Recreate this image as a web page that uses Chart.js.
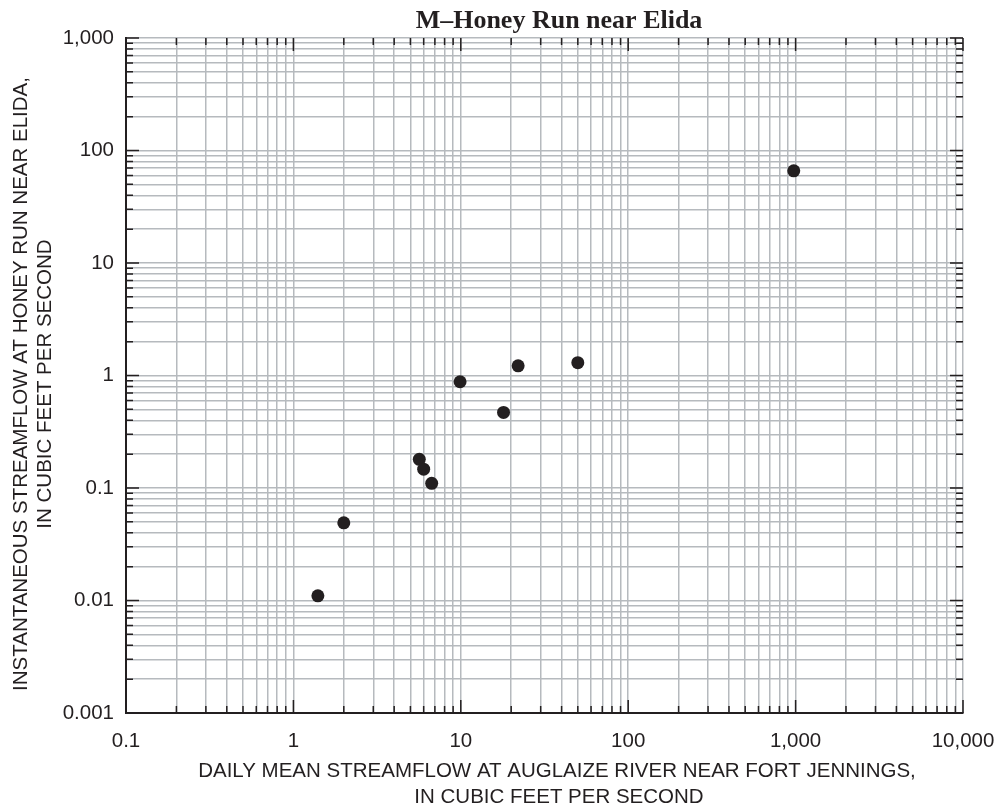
<!DOCTYPE html>
<html>
<head>
<meta charset="utf-8">
<script src="https://cdn.jsdelivr.net/npm/chart.js@4"></script>
<style>
    html, body { margin: 0; padding: 0; background: #ffffff; }
    #wrap { width: 999px; height: 810px; }
</style>
</head>
<body>
<div id="wrap"><canvas id="scatterChart" width="999" height="810"></canvas></div>
<script>
// Data (x = Auglaize River, y = Honey Run), cfs
const flowAuglaize = [1.4, 2.0, 5.65, 6.0, 6.7, 9.9, 18, 22, 50, 975];
const flowHoneyRun = [0.011, 0.049, 0.18, 0.147, 0.11, 0.88, 0.47, 1.22, 1.3, 66];

// Axis decades and their labels
const xMajorTicks = [0.1, 1, 10, 100, 1000, 10000];
const xTickLabels = ['0.1', '1', '10', '100', '1,000', '10,000'];
const yMajorTicks = [0.001, 0.01, 0.1, 1, 10, 100, 1000];
const yTickLabels = ['0.001', '0.01', '0.1', '1', '10', '100', '1,000'];
const minorSteps = [2, 3, 4, 5, 6, 7, 8, 9];

const chartTitle = 'M\u2013Honey Run near Elida';
const xTitleLines = ['DAILY MEAN STREAMFLOW AT AUGLAIZE RIVER NEAR FORT JENNINGS,', 'IN CUBIC FEET PER SECOND'];
const yTitleLines = ['INSTANTANEOUS STREAMFLOW AT HONEY RUN NEAR ELIDA,', 'IN CUBIC FEET PER SECOND'];

const LABEL_FONT = "'Liberation Sans', Arial, sans-serif";
const LABEL_SIZE = 20.5;
const TEXT_COLOR = '#231f20';

// Build the log ticks: each decade plus its 2..9 minors
function buildLogTicks(majors) {
    const ticks = [];
    majors.forEach((m, i) => {
        ticks.push({ value: m, major: true });
        if (i < majors.length - 1) {
            minorSteps.forEach(s => ticks.push({ value: +(m * s).toPrecision(6), major: false }));
        }
    });
    return ticks;
}

function labelFor(value, majors, labels) {
    for (let i = 0; i < majors.length; i++) {
        if (Math.abs(value - majors[i]) / majors[i] < 1e-6) return labels[i];
    }
    return '';
}

// Inward tick marks on all four sides
const innerTicksPlugin = {
    id: 'innerTicks',
    afterDatasetsDraw(chart) {
        const ctx = chart.ctx;
        const area = chart.chartArea;
        const xs = chart.scales.x;
        const ys = chart.scales.y;
        ctx.save();
        ctx.strokeStyle = TEXT_COLOR;
        ctx.lineWidth = 1.5;
        ctx.beginPath();
        xs.ticks.forEach(t => {
            const px = xs.getPixelForValue(t.value);
            const len = t.major ? 13 : 7;
            ctx.moveTo(px, area.top);
            ctx.lineTo(px, area.top + len);
            ctx.moveTo(px, area.bottom);
            ctx.lineTo(px, area.bottom - len);
        });
        ys.ticks.forEach(t => {
            const py = ys.getPixelForValue(t.value);
            const len = t.major ? 13 : 7;
            ctx.moveTo(area.left, py);
            ctx.lineTo(area.left + len, py);
            ctx.moveTo(area.right, py);
            ctx.lineTo(area.right - len, py);
        });
        ctx.stroke();
        ctx.restore();
    }
};

// Chart title and axis titles
const titlesPlugin = {
    id: 'titles',
    afterDraw(chart) {
        const ctx = chart.ctx;
        ctx.save();
        ctx.fillStyle = TEXT_COLOR;
        ctx.textAlign = 'center';
        ctx.textBaseline = 'alphabetic';

        ctx.font = "bold 26px 'Liberation Serif', 'Times New Roman', serif";
        ctx.fillText(chartTitle, 559, 28);

        ctx.font = LABEL_SIZE + 'px ' + LABEL_FONT;
        ctx.fillText(xTitleLines[0], 557, 777);
        ctx.fillText(xTitleLines[1], 559, 803);

        ctx.translate(0, 384);
        ctx.rotate(-Math.PI / 2);
        ctx.fillText(yTitleLines[0], 0, 27);
        ctx.fillText(yTitleLines[1], 0, 51);
        ctx.restore();
    }
};

document.addEventListener('DOMContentLoaded', function() {
    const canvas = document.getElementById('scatterChart');
    const ctx = canvas.getContext('2d');
    const points = flowAuglaize.map((x, i) => ({ x: x, y: flowHoneyRun[i] }));

    new Chart(ctx, {
        type: 'scatter',
        data: {
            datasets: [{
                data: points,
                backgroundColor: TEXT_COLOR,
                borderWidth: 0,
                pointRadius: 6.5,
                pointHoverRadius: 6.5
            }]
        },
        options: {
            responsive: false,
            animation: false,
            events: [],
            layout: {
                padding: { left: 0, top: 38, right: 36, bottom: 0 }
            },
            plugins: {
                legend: { display: false },
                tooltip: { enabled: false }
            },
            scales: {
                x: {
                    type: 'logarithmic',
                    min: 0.1,
                    max: 10000,
                    afterBuildTicks: scale => { scale.ticks = buildLogTicks(xMajorTicks); },
                    afterFit: scale => {
                        scale.height = 97;
                        scale.paddingLeft = 0;
                        scale.paddingRight = 0;
                    },
                    grid: {
                        color: '#b6babe',
                        lineWidth: 1.5,
                        drawTicks: false
                    },
                    border: { display: true, color: TEXT_COLOR, width: 2 },
                    ticks: {
                        autoSkip: false,
                        maxRotation: 0,
                        padding: 16,
                        color: TEXT_COLOR,
                        font: { size: LABEL_SIZE, family: LABEL_FONT },
                        callback: value => labelFor(value, xMajorTicks, xTickLabels)
                    }
                },
                y: {
                    type: 'logarithmic',
                    min: 0.001,
                    max: 1000,
                    afterBuildTicks: scale => { scale.ticks = buildLogTicks(yMajorTicks); },
                    afterFit: scale => {
                        scale.width = 126;
                        scale.paddingTop = 0;
                        scale.paddingBottom = 0;
                    },
                    grid: {
                        color: '#b6babe',
                        lineWidth: 1.5,
                        drawTicks: false
                    },
                    border: { display: true, color: TEXT_COLOR, width: 2 },
                    ticks: {
                        autoSkip: false,
                        padding: 12,
                        color: TEXT_COLOR,
                        font: { size: LABEL_SIZE, family: LABEL_FONT },
                        callback: value => labelFor(value, yMajorTicks, yTickLabels)
                    }
                }
            }
        },
        plugins: [innerTicksPlugin, titlesPlugin]
    });
});
</script>
</body>
</html>
